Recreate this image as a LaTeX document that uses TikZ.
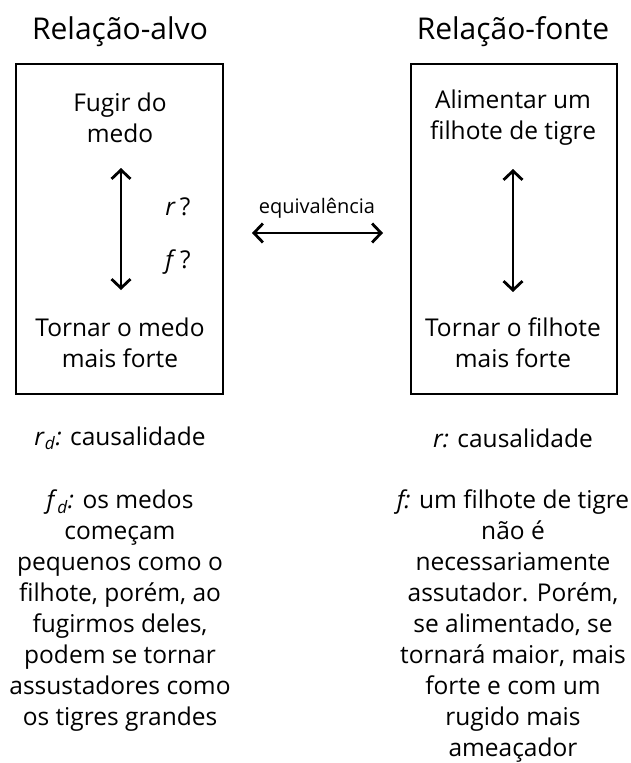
\documentclass[tikz,border=0pt]{standalone}
\usepackage{fontspec}
\setmainfont{Open Sans}[Ligatures=NoCommon]
\usetikzlibrary{arrows.meta}
\begin{document}
\begin{tikzpicture}[x=1pt,y=-1pt,
  body/.style={font=\fontsize{24.5}{31}\selectfont, align=center, inner sep=0pt},
  ttl/.style={font=\fontsize{30}{34}\selectfont, inner sep=0pt},
  frame/.style={draw, line width=2pt, inner sep=0pt},
  barb/.tip={Straight Barb[length=9pt,width=19pt,line width=2.8pt]},
  dbl/.style={barb-barb, line width=2.8pt}
]
\useasboundingbox (0,0) rectangle (630,763);
% titles
\node[ttl] (t1) at (120,32) {Relação-alvo};
\node[ttl] (t2) at (513,32) {Relação-fonte};
% boxes
\node[frame, minimum width=207pt, minimum height=330pt] (box1) at (119.5,229) {};
\node[frame, minimum width=206pt, minimum height=330pt] (box2) at (514,229) {};
% box texts
\node[body] (top1) at (120,118) {Fugir do\\medo};
\node[body] (top2) at (513,118) {Alimentar um\\filhote de tigre};
\node[body] (bot1) at (120,343) {Tornar o medo\\mais forte};
\node[body] (bot2) at (513,343) {Tornar o filhote\\mais forte};
% vertical arrows
\coordinate (a1t) at (121,168);
\coordinate (a1b) at (121,290);
\draw[dbl] (a1t) -- (a1b);
\coordinate (a2t) at (513,169);
\coordinate (a2b) at (513,292);
\draw[dbl] (a2t) -- (a2b);
\node[body] (rq) at (178,207) {\textit{r}\,?};
\node[body] (fq) at (178,262) {\textit{f}\,?};
% equivalence
\node[font=\fontsize{20}{24}\selectfont, inner sep=0pt] (eq) at (317,208) {equivalência};
\coordinate (e1) at (252,233);
\coordinate (e2) at (383,233);
\draw[dbl] (e1) -- (e2);
% bottom labels
\node[body] (rd) at (120,438) {\textit{r}\textsubscript{\textit{d}}\textit{:} causalidade};
\node[body] (rr) at (513,438) {\textit{r:} causalidade};
\node[body, anchor=north] (fd) at (120,490) {\textit{f}\textsubscript{\textit{d}}\textit{:} os medos\\começam\\pequenos como o\\filhote, porém, ao\\fugirmos deles,\\podem se tornar\\assustadores como\\os tigres grandes};
\node[body, anchor=north] (ff) at (513,490) {\textit{f:} um filhote de tigre\\não é\\necessariamente\\assutador. Porém,\\se alimentado, se\\tornará maior, mais\\forte e com um\\rugido mais\\ameaçador};
\end{tikzpicture}
\end{document}
